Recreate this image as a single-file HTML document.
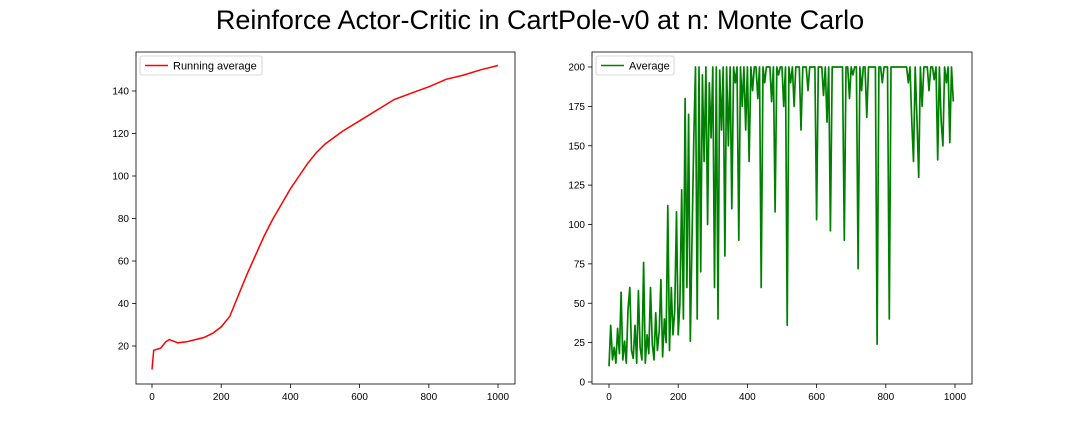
<!DOCTYPE html>
<html><head><meta charset="utf-8"><style>
body{margin:0;background:#fff;width:1080px;height:432px;overflow:hidden;font-family:"Liberation Sans","DejaVu Sans",sans-serif}
svg text{font-family:"Liberation Sans","DejaVu Sans",sans-serif}
</style></head><body>
<svg id="chart" width="1080" height="432">
<text x="540" y="29" text-anchor="middle" font-size="27" fill="#000">Reinforce Actor-Critic in CartPole-v0 at n: Monte Carlo</text>
</svg>
<script>
const leftEpisodes=[0,5,25,40,50,75,100,125,150,175,200,225,250,275,300,325,350,375,400,425,450,475,500,550,600,650,700,750,800,850,900,950,1000];
const leftValues=[9,18,19,22,23,21.5,22,23,24,26,29,34,44,54,63,72,80,87,94,100,106,111,115,121,126,131,136,139,142,145.5,147.5,150,152];
const rightValues=[10,36,14,22,12,34,18,57,14,26,12,46,60,20,15,36,12,58,22,14,
76,12,30,18,60,24,14,44,20,32,65,16,40,25,112,20,60,30,45,108,
30,50,122,40,180,60,170,26,90,155,200,40,200,70,195,140,200,100,190,155,
200,60,200,40,198,160,200,80,200,150,200,110,200,190,200,90,200,175,200,160,
200,140,200,185,200,200,180,200,60,200,190,200,200,200,178,200,108,200,195,200,
200,175,200,36,200,190,200,175,200,200,200,160,200,200,200,185,200,200,200,200,
103,200,200,200,182,200,165,200,96,200,200,200,200,200,200,200,90,200,200,180,
200,195,200,200,72,200,185,200,200,168,200,200,200,200,200,24,200,200,190,200,
200,200,40,200,200,200,200,200,200,200,200,200,200,190,200,165,140,200,168,130,
200,175,200,200,200,185,200,200,192,200,141,200,165,150,200,190,200,152,200,178];
const xTicks=[0,200,400,600,800,1000];
const leftYTicks=[20,40,60,80,100,120,140];
const rightYTicks=[0,25,50,75,100,125,150,175,200];

const svg=document.getElementById('chart');
const NS='http://www.w3.org/2000/svg';
function mk(tag,attrs,parent){const e=document.createElementNS(NS,tag);for(const k in attrs)e.setAttribute(k,attrs[k]);(parent||svg).appendChild(e);return e;}

function axes(px0,px1,py0,py1,xs,ys,yTicks,name){
  const g=mk('g',{});
  
  
  xTicks.forEach(t=>{const x=xs(t);
    const l=mk('line',{x1:x,x2:x,y1:py1,y2:py1+4,stroke:'#000','stroke-width':0.8},g);
    
    
    const tx=mk('text',{x:x,y:py1+16,'text-anchor':'middle','font-size':10,fill:'#000'},g);tx.textContent=t;
    
    
  });
  yTicks.forEach(t=>{const y=ys(t);
    const l=mk('line',{x1:px0-4,x2:px0,y1:y,y2:y,stroke:'#000','stroke-width':0.8},g);
    
    
    const tx=mk('text',{x:px0-7,y:y+3.5,'text-anchor':'end','font-size':10,fill:'#000'},g);tx.textContent=t;
    
    
  });
  return g;
}
function frame(px0,px1,py0,py1,name){
  const r=mk('rect',{x:px0,y:py0,width:px1-px0,height:py1-py0,fill:'none',stroke:'#000','stroke-width':0.8});
  
  
}
function legend(x,y,w,color,label,name){
  const g=mk('g',{});
  
  
  mk('rect',{x:x,y:y,width:w,height:19,rx:2,fill:'#fff',stroke:'#ccc','stroke-width':0.8},g);
  mk('line',{x1:x+5,x2:x+28,y1:y+9.5,y2:y+9.5,stroke:color,'stroke-width':1.6},g);
  const t=mk('text',{x:x+33,y:y+13.5,'font-size':11,fill:'#000'},g);t.textContent=label;
}

// Left
const L={x0:136,x1:515,y0:52,y1:384};
const lxs=v=>152+v*(498-152)/1000;
const lys=v=>346-(v-20)*(346-91)/120;
axes(L.x0,L.x1,L.y0,L.y1,lxs,lys,leftYTicks,'left-axes');
let d=leftEpisodes.map((e,i)=>(i?'L':'M')+lxs(e).toFixed(1)+','+lys(leftValues[i]).toFixed(1)).join('');
const lp=mk('path',{d:d,fill:'none',stroke:'red','stroke-width':1.5});


frame(L.x0,L.x1,L.y0,L.y1,'left-plot-frame');
legend(140,56,122,'red','Running average','left-legend');

// Right
const R={x0:592,x1:972,y0:52,y1:384};
const rxs=v=>609+v*(955-609)/1000;
const rys=v=>382-v*(382-67)/200;
axes(R.x0,R.x1,R.y0,R.y1,rxs,rys,rightYTicks,'right-axes');
d=rightValues.map((v,i)=>(i?'L':'M')+rxs(i*1000/(rightValues.length)).toFixed(1)+','+rys(v).toFixed(1)).join('');
const rp=mk('path',{d:d,fill:'none',stroke:'green','stroke-width':1.7,'stroke-linejoin':'round'});


frame(R.x0,R.x1,R.y0,R.y1,'right-plot-frame');
legend(596,56,78,'green','Average','right-legend');
</script>
</body></html>
